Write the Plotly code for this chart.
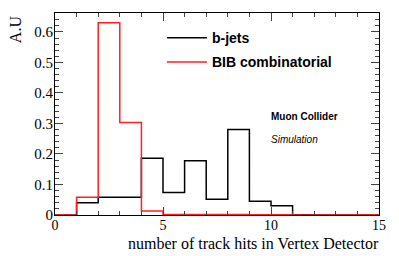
import plotly.graph_objects as go

bin_edges = list(range(0, 16))
bjets = [0.0, 0.040, 0.058, 0.058, 0.186, 0.074, 0.178, 0.052, 0.280, 0.045, 0.030, 0.001, 0.0, 0.0, 0.0]
bib = [0.0, 0.058, 0.630, 0.303, 0.013, 0.002, 0.002, 0.002, 0.002, 0.001, 0.001, 0.0, 0.0, 0.0, 0.0]

def step(vals):
    return bin_edges, vals + [vals[-1]]

fig = go.Figure()
x, y = step(bjets)
fig.add_trace(go.Scatter(x=x, y=y, mode="lines", line=dict(color="black", width=1.5, shape="hv"),
                         name="b-jets", legendgroup="a"))
x, y = step(bib)
fig.add_trace(go.Scatter(x=x, y=y, mode="lines", line=dict(color="#ff2020", width=1.5, shape="hv"),
                         name="BIB combinatorial", legendgroup="b"))

serif = "Liberation Serif, Times New Roman, serif"
sans = "Liberation Sans, Arial, sans-serif"

fig.update_layout(
    width=399, height=256,
    margin=dict(l=55, r=20, t=13, b=41),
    plot_bgcolor="white", paper_bgcolor="white",
    showlegend=True,
    legend=dict(x=0.33, y=0.955, xanchor="left", yanchor="top",
                font=dict(family=sans, size=14, color="black", weight="bold"),
                bgcolor="rgba(0,0,0,0)", tracegroupgap=3, itemwidth=40),
    xaxis=dict(range=[0, 15], tickvals=[0, 5, 10, 15], ticks="inside", ticklen=8,
               showline=True, linecolor="black", linewidth=1, mirror="ticks",
               showgrid=False, zeroline=False, ticklabelstandoff=-3,
               tickfont=dict(family=serif, size=14, color="black"),
               minor=dict(ticks="inside", ticklen=4, dtick=1, showgrid=False)),
    yaxis=dict(range=[0, 0.662], tickvals=[0, 0.1, 0.2, 0.3, 0.4, 0.5, 0.6], ticks="inside", ticklen=8,
               showline=True, linecolor="black", linewidth=1, mirror="ticks",
               showgrid=False, zeroline=False, ticklabelstandoff=-2,
               tickfont=dict(family=serif, size=15, color="black"),
               minor=dict(ticks="inside", ticklen=4, dtick=0.02, showgrid=False)),
    annotations=[
        dict(text="number of track hits in Vertex Detector", xref="paper", yref="paper",
             x=1.003, y=-0.094, xanchor="right", yanchor="top", showarrow=False, borderpad=0,
             font=dict(family=serif, size=16, color="black")),
        dict(text="A.U", xref="paper", yref="paper", x=-0.123, y=1.0, xanchor="center", yanchor="top",
             textangle=-90, showarrow=False, font=dict(family=serif, size=16, color="black")),
        dict(text="<b>Muon Collider</b>", xref="paper", yref="paper", x=0.66, y=0.49,
             xanchor="left", yanchor="middle", showarrow=False,
             font=dict(family=sans, size=10, color="black")),
        dict(text="<i>Simulation</i>", xref="paper", yref="paper", x=0.66, y=0.375,
             xanchor="left", yanchor="middle", showarrow=False,
             font=dict(family=sans, size=10, color="black")),
    ],
)

fig.write_html("out.html", config={"displayModeBar": False},
               post_script="document.body.style.margin='0';")
